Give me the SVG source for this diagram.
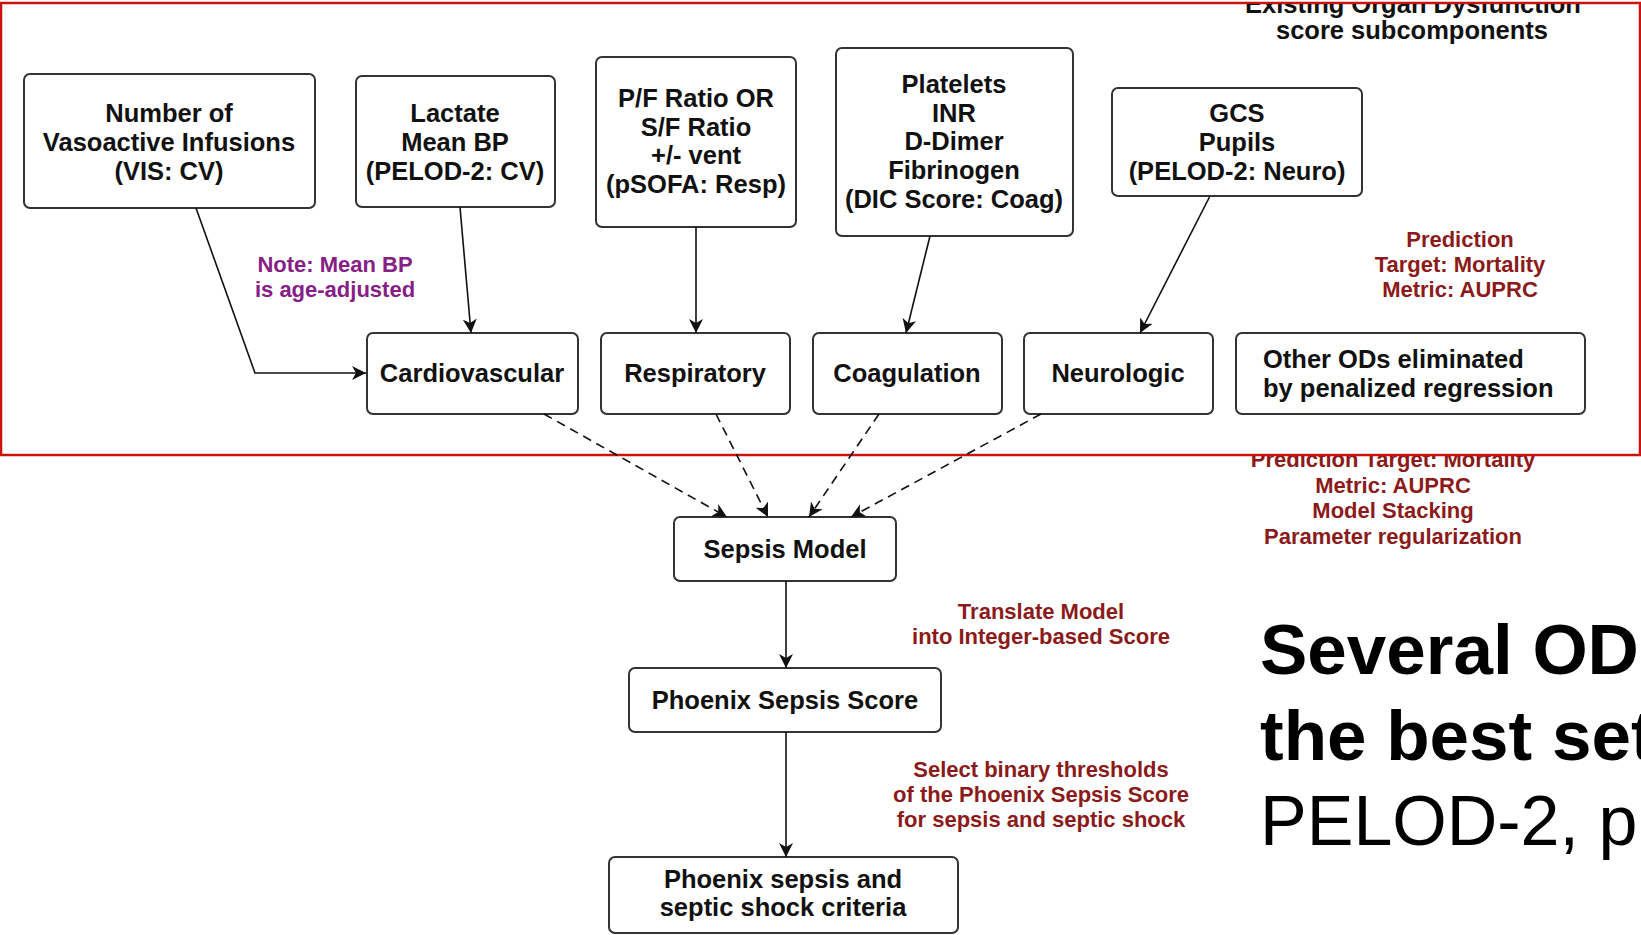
<svg xmlns="http://www.w3.org/2000/svg" width="1641" height="935" viewBox="0 0 1641 935">
  <style>
    .box { fill: #ffffff; stroke: #333333; stroke-width: 2; }
    .lbl { font-family: "Liberation Sans", Arial, sans-serif; font-weight: bold; font-size: 25.5px; fill: #111111; text-anchor: middle; }
    .left { text-anchor: start; }
    .note { font-family: "Liberation Sans", Arial, sans-serif; font-weight: bold; font-size: 22px; fill: #8b1a1a; text-anchor: middle; }
    .purple { fill: #862086; }
    .edge { fill: none; stroke: #111111; stroke-width: 1.6; }
    .dash { stroke-dasharray: 9 6; }
    .big { font-family: "Liberation Sans", Arial, sans-serif; fill: #000000; }
  </style>
  <defs>
    <marker id="arrow" markerUnits="userSpaceOnUse" markerWidth="16" markerHeight="14" refX="14" refY="7" orient="auto">
      <path d="M0,0 L14,7 L0,14 L4,7 z" fill="#111111"/>
    </marker>
    <clipPath id="clipTop"><rect x="0" y="4" width="1641" height="60"/></clipPath>
    <clipPath id="clipBottom"><rect x="1100" y="456" width="541" height="40"/></clipPath>
  </defs>

  <rect width="1641" height="935" fill="#ffffff"/>

  <!-- outline around the organ-dysfunction input region -->
  <rect x="1" y="3" width="1639" height="452" fill="none" stroke="#cc1111" stroke-width="2.5"/>

  <!-- region caption (top edge) -->
  <g id="caption-subcomponents">
    <text class="lbl" x="1413" y="13" font-size="22" clip-path="url(#clipTop)">Existing Organ Dysfunction</text>
    <text class="lbl" x="1412" y="39" font-size="22">score subcomponents</text>
  </g>

  <!-- source variable boxes -->
  <g id="node-vis">
    <rect class="box" x="24" y="74" width="291" height="134" rx="6"/>
    <text class="lbl" x="169" y="122">Number of</text>
    <text class="lbl" x="169" y="151">Vasoactive Infusions</text>
    <text class="lbl" x="169" y="180">(VIS: CV)</text>
  </g>
  <g id="node-lactate">
    <rect class="box" x="356" y="76" width="199" height="131" rx="6"/>
    <text class="lbl" x="455" y="122">Lactate</text>
    <text class="lbl" x="455" y="151">Mean BP</text>
    <text class="lbl" x="455" y="180">(PELOD-2: CV)</text>
  </g>
  <g id="node-pf">
    <rect class="box" x="596" y="57" width="200" height="170" rx="6"/>
    <text class="lbl" x="696" y="107">P/F Ratio OR</text>
    <text class="lbl" x="696" y="136">S/F Ratio</text>
    <text class="lbl" x="696" y="164">+/- vent</text>
    <text class="lbl" x="696" y="193">(pSOFA: Resp)</text>
  </g>
  <g id="node-coag-vars">
    <rect class="box" x="836" y="48" width="237" height="188" rx="6"/>
    <text class="lbl" x="954" y="93">Platelets</text>
    <text class="lbl" x="954" y="122">INR</text>
    <text class="lbl" x="954" y="150">D-Dimer</text>
    <text class="lbl" x="954" y="179">Fibrinogen</text>
    <text class="lbl" x="954" y="208">(DIC Score: Coag)</text>
  </g>
  <g id="node-gcs">
    <rect class="box" x="1112" y="88" width="250" height="108" rx="6"/>
    <text class="lbl" x="1237" y="122">GCS</text>
    <text class="lbl" x="1237" y="151">Pupils</text>
    <text class="lbl" x="1237" y="180">(PELOD-2: Neuro)</text>
  </g>

  <!-- organ system boxes -->
  <g id="node-cardiovascular">
    <rect class="box" x="367" y="333" width="211" height="81" rx="6"/>
    <text class="lbl" x="472" y="382">Cardiovascular</text>
  </g>
  <g id="node-respiratory">
    <rect class="box" x="601" y="333" width="189" height="81" rx="6"/>
    <text class="lbl" x="695" y="382">Respiratory</text>
  </g>
  <g id="node-coagulation">
    <rect class="box" x="813" y="333" width="189" height="81" rx="6"/>
    <text class="lbl" x="907" y="382">Coagulation</text>
  </g>
  <g id="node-neurologic">
    <rect class="box" x="1024" y="333" width="189" height="81" rx="6"/>
    <text class="lbl" x="1118" y="382">Neurologic</text>
  </g>
  <g id="node-other">
    <rect class="box" x="1236" y="333" width="349" height="81" rx="6"/>
    <text class="lbl left" x="1263" y="368">Other ODs eliminated</text>
    <text class="lbl left" x="1263" y="397">by penalized regression</text>
  </g>

  <!-- model pipeline -->
  <g id="node-sepsis-model">
    <rect class="box" x="674" y="517" width="222" height="64" rx="6"/>
    <text class="lbl" x="785" y="558">Sepsis Model</text>
  </g>
  <g id="node-phoenix-score">
    <rect class="box" x="629" y="668" width="312" height="64" rx="6"/>
    <text class="lbl" x="785" y="709">Phoenix Sepsis Score</text>
  </g>
  <g id="node-criteria">
    <rect class="box" x="609" y="857" width="349" height="76" rx="6"/>
    <text class="lbl" x="783" y="888">Phoenix sepsis and</text>
    <text class="lbl" x="783" y="916">septic shock criteria</text>
  </g>

  <!-- connectors -->
  <g id="connectors">
    <polyline class="edge" points="196,208 255,373 366,373" marker-end="url(#arrow)"/>
    <line class="edge" x1="460" y1="207" x2="471" y2="333" marker-end="url(#arrow)"/>
    <line class="edge" x1="696" y1="227" x2="696" y2="333" marker-end="url(#arrow)"/>
    <line class="edge" x1="930" y1="236" x2="906" y2="333" marker-end="url(#arrow)"/>
    <line class="edge" x1="1210" y1="196" x2="1140" y2="333" marker-end="url(#arrow)"/>
    <line class="edge dash" x1="544" y1="414" x2="727" y2="517" marker-end="url(#arrow)"/>
    <line class="edge dash" x1="716" y1="414" x2="768" y2="517" marker-end="url(#arrow)"/>
    <line class="edge dash" x1="879" y1="414" x2="809" y2="517" marker-end="url(#arrow)"/>
    <line class="edge dash" x1="1041" y1="414" x2="851" y2="517" marker-end="url(#arrow)"/>
    <line class="edge" x1="786" y1="581" x2="786" y2="668" marker-end="url(#arrow)"/>
    <line class="edge" x1="786" y1="732" x2="786" y2="857" marker-end="url(#arrow)"/>
  </g>

  <!-- annotations -->
  <g id="note-mean-bp">
    <text class="note purple" x="335" y="272">Note: Mean BP</text>
    <text class="note purple" x="335" y="297">is age-adjusted</text>
  </g>
  <g id="note-prediction-top">
    <text class="note" x="1460" y="247">Prediction</text>
    <text class="note" x="1460" y="272">Target: Mortality</text>
    <text class="note" x="1460" y="297">Metric: AUPRC</text>
  </g>
  <g id="note-prediction-stack">
    <text class="note" x="1393" y="467" clip-path="url(#clipBottom)">Prediction Target: Mortality</text>
    <text class="note" x="1393" y="493">Metric: AUPRC</text>
    <text class="note" x="1393" y="518">Model Stacking</text>
    <text class="note" x="1393" y="544">Parameter regularization</text>
  </g>
  <g id="note-translate">
    <text class="note" x="1041" y="619">Translate Model</text>
    <text class="note" x="1041" y="644">into Integer-based Score</text>
  </g>
  <g id="note-thresholds">
    <text class="note" x="1041" y="777">Select binary thresholds</text>
    <text class="note" x="1041" y="802">of the Phoenix Sepsis Score</text>
    <text class="note" x="1041" y="827">for sepsis and septic shock</text>
  </g>

  <!-- slide text running off the right edge -->
  <g id="slide-text">
    <text class="big" x="1260" y="674" font-size="71" font-weight="bold">Several OD</text>
    <text class="big" x="1260" y="760" font-size="71" font-weight="bold">the best set</text>
    <text class="big" x="1260" y="845" font-size="70">PELOD-2, p</text>
  </g>
</svg>
